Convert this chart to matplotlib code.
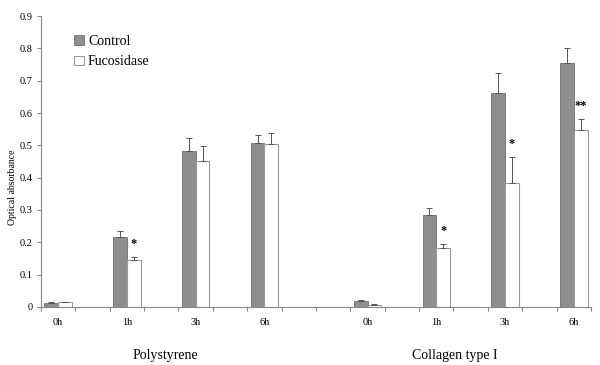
import matplotlib.pyplot as plt
from matplotlib.transforms import blended_transform_factory

plt.rcParams['font.family'] = ['Liberation Serif', 'DejaVu Serif']

# Data
times = ['0h', '1h', '3h', '6h']
groups = ['Polystyrene', 'Collagen type I']

poly_control = [0.013, 0.215, 0.482, 0.506]
poly_control_err = [0.002, 0.019, 0.040, 0.026]
poly_fuc = [0.014, 0.144, 0.453, 0.504]
poly_fuc_err = [0.002, 0.012, 0.044, 0.033]
poly_sig = ['', '*', '', '']

coll_control = [0.020, 0.283, 0.661, 0.755]
coll_control_err = [0.001, 0.023, 0.063, 0.045]
coll_fuc = [0.007, 0.181, 0.385, 0.546]
coll_fuc_err = [0.001, 0.013, 0.078, 0.037]
coll_sig = ['', '*', '*', '**']

# category slots on the axis (16 slots, labels on every other one)
poly_pos = [0, 2, 4, 6]
coll_pos = [9, 11, 13, 15]

fig = plt.figure(figsize=(6, 3.65), dpi=100)
ax = fig.add_axes([0.0683, 0.159, 0.9167, 0.797])

w = 0.4
pos = poly_pos + coll_pos
control = poly_control + coll_control
control_err = poly_control_err + coll_control_err
fuc = poly_fuc + coll_fuc
fuc_err = poly_fuc_err + coll_fuc_err
sig = poly_sig + coll_sig

xc = [p - w / 2 for p in pos]
xf = [p + w / 2 for p in pos]
ax.bar(xc, control, width=w, color='#8e8e8e', edgecolor='#6e6e6e', linewidth=0.6, label='Control')
ax.bar(xf, fuc, width=w, color='white', edgecolor='#9a9a9a', linewidth=0.8, label='Fucosidase')
ax.errorbar(xc, control, yerr=[[0] * len(control), control_err], fmt='none',
            ecolor='#555555', elinewidth=0.7, capsize=2.5, capthick=0.7)
ax.errorbar(xf, fuc, yerr=[[0] * len(fuc), fuc_err], fmt='none',
            ecolor='#555555', elinewidth=0.7, capsize=2.5, capthick=0.7)

# significance stars
for x, v, e, s in zip(xf, fuc, fuc_err, sig):
    if s:
        ax.text(x, v + e + 0.04, s, ha='center', va='center', fontsize=9, fontweight='bold')

ax.set_xlim(-0.5, 15.5)
ax.set_ylim(0, 0.9)
ax.set_yticks([i / 10 for i in range(10)])
ax.set_yticklabels(['0'] + ['%.1f' % (i / 10) for i in range(1, 10)], fontsize=7.5)

# tick marks at the slot boundaries, labels centred under the bars
ax.set_xticks([i - 0.5 for i in range(17)])
ax.set_xticklabels([])
ax.tick_params(axis='x', length=3, direction='out', color='#888888')
ax.tick_params(axis='y', length=3, color='#888888', pad=3)
trans = blended_transform_factory(ax.transData, ax.transAxes)
for p, t in zip(pos, times + times):
    ax.text(p, -0.052, t, transform=trans, ha='center', va='center', fontsize=7.5)

for s in ['top', 'right']:
    ax.spines[s].set_visible(False)
for s in ['left', 'bottom']:
    ax.spines[s].set_color('#888888')
    ax.spines[s].set_linewidth(0.8)

ax.set_ylabel('Optical absorbance', fontsize=7)
ax.yaxis.set_label_coords(-0.043, 0.41)

fig.text(165 / 600, 1 - 356 / 365, groups[0], ha='center', va='center', fontsize=10)
fig.text(455 / 600, 1 - 356 / 365, groups[1], ha='center', va='center', fontsize=10)

ax.legend(loc='upper left', bbox_to_anchor=(0.05, 0.955), borderaxespad=0, frameon=False,
          fontsize=10, handlelength=0.7, handleheight=0.7, handletextpad=0.3, labelspacing=0.55)

fig.savefig('out.png', dpi=100)
